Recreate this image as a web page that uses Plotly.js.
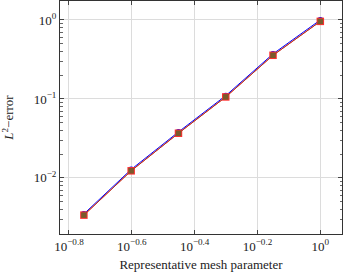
<!DOCTYPE html>
<html>
<head>
<meta charset="utf-8">
<script src="https://cdn.plot.ly/plotly-3.0.1.min.js"></script>
<style>html,body{margin:0;padding:0;background:#fff;}#chart{width:344px;height:276px;}</style>
</head>
<body>
<div id="chart"></div>
<script>
// mesh parameter h = 1/sqrt(N)
const meshParam = [0.1768, 0.25, 0.3536, 0.5, 0.7071, 1.0];
const errBlue  = [0.00350, 0.0128, 0.0382, 0.110, 0.372, 1.0];
const errRed   = [0.00338, 0.0123, 0.0368, 0.106, 0.357, 0.96];
const errBrown = [0.00338, 0.0123, 0.0368, 0.106, 0.357, 0.96];

const xTickVals = [Math.pow(10,-0.8), Math.pow(10,-0.6), Math.pow(10,-0.4), Math.pow(10,-0.2), 1];
const xTickText = ['10<sup>−0.8</sup>','10<sup>−0.6</sup>','10<sup>−0.4</sup>','10<sup>−0.2</sup>','10<sup>0</sup>'];
const yTickVals = [0.01, 0.1, 1];
const yTickText = ['10<sup>−2</sup>','10<sup>−1</sup>','10<sup>0</sup>'];
const yMinorVals = [];
[0.001, 0.01, 0.1, 1].forEach(d => { for (let k = 2; k <= 9; k++) yMinorVals.push(d*k); });

const serif = 'Liberation Serif, DejaVu Serif, serif';

const traces = [
  {x: meshParam, y: errBlue, mode: 'lines+markers', line: {color: '#0000ff', width: 1},
   marker: {symbol: 'circle', size: 6, color: '#0000ff'}, showlegend: false},
  {x: meshParam, y: errRed, mode: 'lines+markers', line: {color: '#ff0000', width: 1},
   marker: {symbol: 'square', size: 7.5, color: '#ff3030'}, showlegend: false},
  {x: meshParam, y: errBrown, mode: 'lines+markers', line: {color: '#8a4a2a', width: 0.7},
   marker: {symbol: 'square', size: 5.5, color: '#7a5a2c'}, showlegend: false}
];

const layout = {
  width: 344, height: 276,
  margin: {l: 60, r: 1.5, t: 1, b: 41.5},
  paper_bgcolor: '#fff', plot_bgcolor: '#fff',
  font: {family: serif, size: 13, color: '#222'},
  xaxis: {
    type: 'log', range: [-0.8286, 0.069],
    tickvals: xTickVals, ticktext: xTickText,
    ticks: 'inside', ticklen: 4, tickcolor: '#444', mirror: 'allticks',
    showline: true, linecolor: '#333', linewidth: 1,
    showgrid: true, gridcolor: '#dcdcdc', gridwidth: 1,
    zeroline: false, automargin: false,
    tickfont: {family: serif, size: 13, color: '#222'},
    title: {text: 'Representative mesh parameter', font: {family: serif, size: 13, color: '#222'}, standoff: 7}
  },
  yaxis: {
    type: 'log', range: [-2.710, 0.240],
    tickvals: yTickVals, ticktext: yTickText,
    ticks: 'inside', ticklen: 4, tickcolor: '#444', mirror: 'allticks',
    minor: {tickvals: yMinorVals, ticks: 'inside', ticklen: 2.5, tickcolor: '#666', showgrid: false},
    showline: true, linecolor: '#333', linewidth: 1,
    showgrid: true, gridcolor: '#dcdcdc', gridwidth: 1,
    zeroline: false, automargin: false,
    tickfont: {family: serif, size: 13, color: '#222'},
    title: {text: '<i>L</i><sup>2</sup>−error', font: {family: serif, size: 13, color: '#222'}, standoff: 22}
  }
};

Plotly.newPlot('chart', traces, layout, {staticPlot: true, displayModeBar: false});
</script>
</body>
</html>
